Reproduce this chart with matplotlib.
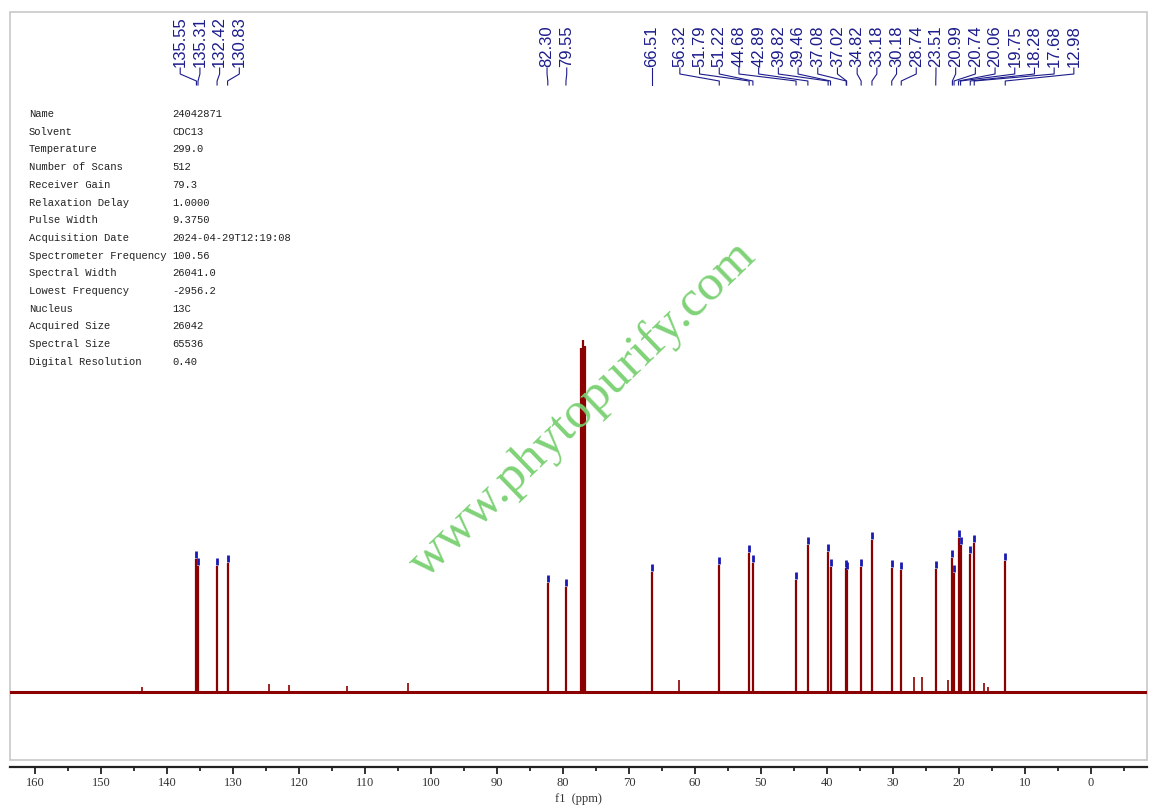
import matplotlib
matplotlib.use("Agg")
import matplotlib.pyplot as plt
import numpy as np
from matplotlib.patches import Rectangle
from matplotlib.ticker import MultipleLocator


# 13C NMR (CDCl3) - picked peaks, shift in ppm and height
peak_ppm = [135.55, 135.31, 132.42, 130.83, 82.30, 79.55, 66.51, 56.32, 51.79, 51.22,
            44.68, 42.89, 39.82, 39.46, 37.08, 37.02, 34.82, 33.18, 30.18, 28.74,
            23.51, 20.99, 20.74, 20.06, 19.75, 18.28, 17.68, 12.98]
peak_height = [133, 126, 126, 129, 109, 105, 120, 127, 139, 129,
               112, 147, 140, 125, 124, 122, 125, 152, 124, 122,
               123, 134, 119, 154, 147, 138, 149, 131]

# solvent triplet (CDCl3), not labelled
solvent_ppm = [77.32, 77.00, 76.68]
solvent_height = [344, 352, 346]

# small unlabelled signals
minor_ppm = [143.8, 124.6, 121.5, 112.7, 103.5, 62.4, 26.8, 25.6, 21.6, 16.2, 15.6]
minor_height = [5, 8, 7, 6, 9, 12, 15, 15, 12, 9, 5]

param_names = ["Name", "Solvent", "Temperature", "Number of Scans", "Receiver Gain",
               "Relaxation Delay", "Pulse Width", "Acquisition Date",
               "Spectrometer Frequency", "Spectral Width", "Lowest Frequency",
               "Nucleus", "Acquired Size", "Spectral Size", "Digital Resolution"]
param_values = ["24042871", "CDC13", "299.0", "512", "79.3", "1.0000", "9.3750",
                "2024-04-29T12:19:08", "100.56", "26041.0", "-2956.2", "13C",
                "26042", "65536", "0.40"]

SPEC_COLOR = "#8b0000"
LABEL_COLOR = "#1c1c8c"


def spread_labels(pos, gap):
    """Least-squares placement of labels with a minimum gap (pool adjacent violators)."""
    pos = np.asarray(pos, dtype=float)
    z = pos - gap * np.arange(len(pos))
    blocks = []  # [start, count, mean]
    for i, zi in enumerate(z):
        blocks.append([i, 1, zi])
        while len(blocks) > 1 and blocks[-2][2] > blocks[-1][2]:
            s2, n2, m2 = blocks.pop()
            s1, n1, m1 = blocks.pop()
            blocks.append([s1, n1 + n2, (m1 * n1 + m2 * n2) / (n1 + n2)])
    out = np.empty_like(pos)
    for s, n, m in blocks:
        out[s:s + n] = m
    return out + gap * np.arange(len(pos))


fig = plt.figure(figsize=(11.57, 8.10), dpi=100)
ax = fig.add_axes([10 / 1157, 50 / 810, 1137 / 1157, 748 / 810])
ax.set_xlim(163.8, -8.5)
ax.set_ylim(-68, 680)

# baseline + lines
ax.axhline(0, color=SPEC_COLOR, lw=2.2, zorder=2)
ax.vlines(peak_ppm, 0, peak_height, color=SPEC_COLOR, lw=1.6, zorder=3)
ax.vlines(solvent_ppm, 0, solvent_height, color=SPEC_COLOR, lw=1.6, zorder=3)
ax.vlines(minor_ppm, 0, minor_height, color=SPEC_COLOR, lw=1.2, zorder=3)

# blue peak-pick markers
top = np.array(peak_height, dtype=float)
ax.vlines(peak_ppm, top + 1, top + 8, color="#1a1ab0", lw=2, zorder=4)

# labels on top with leader lines
ppm_px = 1137 / (163.8 + 8.5)  # pixels per ppm
label_u = spread_labels(-np.array(peak_ppm), 19.7 / ppm_px)
label_ppm = -label_u
y_text, y_bend1, y_bend2, y_end = 624, 618, 611, 607
for p, lp in zip(peak_ppm, label_ppm):
    ax.plot([lp, lp, p, p], [y_text, y_bend1, y_bend2, y_end],
            color=LABEL_COLOR, lw=0.8, zorder=4)
    ax.text(lp, y_text + 1, f"{p:.2f}", rotation=90, ha="center", va="bottom",
            fontsize=12, color=LABEL_COLOR, family="Liberation Sans")

# frame and x axis
for s in ["top", "left", "right"]:
    ax.spines[s].set_visible(False)
ax.add_patch(Rectangle((0, 0), 1, 1, transform=ax.transAxes, fill=False,
                       edgecolor="#c8c8c8", lw=1.2, clip_on=False, zorder=1))
ax.spines["bottom"].set_position(("outward", 5))
ax.spines["bottom"].set_linewidth(1.6)
ax.spines["bottom"].set_color("#222222")
ax.set_yticks([])
ax.xaxis.set_major_locator(MultipleLocator(10))
ax.xaxis.set_minor_locator(MultipleLocator(5))
ax.tick_params(axis="x", which="major", length=5, width=1.3, color="#222222",
               labelsize=9, pad=2, labelcolor="#333333")
ax.tick_params(axis="x", which="minor", length=3, width=1.3, color="#222222")
for lab in ax.get_xticklabels():
    lab.set_family("Liberation Serif")
ax.set_xlabel("f1  (ppm)", family="Liberation Serif", fontsize=9, color="#333333",
              labelpad=3)

# acquisition parameters
for i, (n, v) in enumerate(zip(param_names, param_values)):
    y = 1 - (114 + 17.7 * i) / 810
    fig.text(29 / 1157, y, n, fontsize=7.6, family="Liberation Mono",
             color="#222222", va="center")
    fig.text(172 / 1157, y, v, fontsize=7.6, family="Liberation Mono",
             color="#222222", va="center")

# watermark
fig.text(583 / 1157, 1 - 410 / 810, "www.phytopurify.com", rotation=44,
         rotation_mode="anchor", ha="center", va="center", fontsize=37,
         family="Liberation Serif", color="#78d070", alpha=0.95, zorder=10)

fig.savefig("out.png", dpi=100)
